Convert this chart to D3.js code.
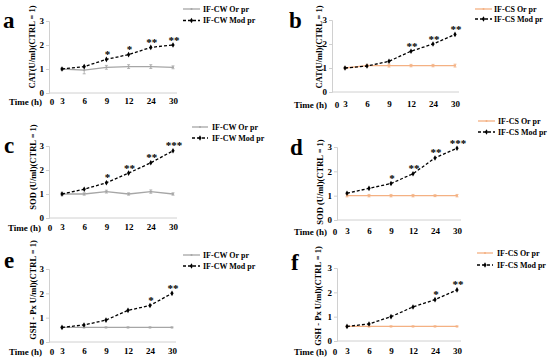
<!DOCTYPE html>
<html><head><meta charset="utf-8">
<script src="https://cdn.jsdelivr.net/npm/d3@7"></script>
<style>
body{margin:0;background:#fff}
svg{display:block}
text{font-family:"Liberation Serif","Times New Roman",serif;font-weight:bold;fill:#000}
</style>
</head><body>
<svg id="chart" width="550" height="358"></svg>
<script>
// ---- data ----
const times = ["3","6","9","12","24","30"];
const yTicks = [0,1,2,3];

const catCWOr  = [1.0, 0.95, 1.07, 1.1, 1.1, 1.07];
const catCWOrErr = [0.05, 0.15, 0.08, 0.08, 0.08, 0.06];
const catCWMod = [1.0, 1.1, 1.4, 1.6, 1.9, 2.0];
const catCWModErr = [0.03, 0.05, 0.07, 0.06, 0.05, 0.05];
const catCWSig = ["", "", "*", "*", "**", "**"];

const catCSOr  = [1.0, 1.1, 1.1, 1.1, 1.1, 1.1];
const catCSOrErr = [0.04, 0.05, 0.06, 0.05, 0.05, 0.06];
const catCSMod = [1.0, 1.08, 1.28, 1.7, 2.0, 2.4];
const catCSModErr = [0.03, 0.04, 0.05, 0.05, 0.05, 0.05];
const catCSSig = ["", "", "", "**", "**", "**"];

const sodCWOr  = [1.0, 1.0, 1.1, 1.0, 1.1, 1.0];
const sodCWOrErr = [0.07, 0.05, 0.06, 0.05, 0.07, 0.05];
const sodCWMod = [1.0, 1.2, 1.47, 1.87, 2.3, 2.8];
const sodCWModErr = [0.03, 0.04, 0.05, 0.05, 0.05, 0.05];
const sodCWSig = ["", "", "*", "**", "**", "***"];

const sodCSOr  = [1.0, 1.0, 1.0, 1.0, 1.0, 1.0];
const sodCSOrErr = [0.05, 0.05, 0.05, 0.05, 0.04, 0.05];
const sodCSMod = [1.1, 1.3, 1.5, 1.9, 2.55, 2.95];
const sodCSModErr = [0.03, 0.04, 0.05, 0.05, 0.05, 0.05];
const sodCSSig = ["", "", "*", "**", "**", "***"];

const gshCWOr  = [0.6, 0.6, 0.6, 0.6, 0.6, 0.6];
const gshCWOrErr = [0.02, 0.02, 0.02, 0.02, 0.02, 0.02];
const gshCWMod = [0.6, 0.7, 0.9, 1.3, 1.5, 2.0];
const gshCWModErr = [0.02, 0.03, 0.03, 0.04, 0.04, 0.04];
const gshCWSig = ["", "", "", "", "*", "**"];

const gshCSOr  = [0.6, 0.6, 0.6, 0.6, 0.6, 0.6];
const gshCSOrErr = [0.02, 0.02, 0.02, 0.02, 0.02, 0.02];
const gshCSMod = [0.6, 0.7, 1.0, 1.4, 1.7, 2.1];
const gshCSModErr = [0.02, 0.03, 0.03, 0.04, 0.04, 0.04];
const gshCSSig = ["", "", "", "", "*", "**"];

const yTitles = ["CAT(U/ml)(CTRL = 1)", "SOD (U/ml)(CTRL = 1)", "GSH - Px U/ml)(CTRL = 1)"];
const legendCW = ["IF-CW Or pr", "IF-CW Mod pr"];
const legendCS = ["IF-CS Or pr", "IF-CS Mod pr"];
const panelLetters = ["a","b","c","d","e","f"];

// ---- styling / layout ----
const GRAY = "#a6a6a6", ORANGE = "#f4b183", AXIS = "#d0d0d0";

const panels = [
 {letter:panelLetters[0], title:yTitles[0], or:catCWOr, orErr:catCWOrErr, mod:catCWMod, modErr:catCWModErr, sig:catCWSig, color:GRAY, legend:legendCW,
  L:{ax:49,y0:93,y3:21,x1:62,x2:173,axEnd:177,labY:102,zeroX:52,timeEnd:42,tX:32,tY:47,lx:3,ly:28,gx1:183,gx2:200,gy1:9,gy2:20.5,gt:203}},
 {letter:panelLetters[1], title:yTitles[0], or:catCSOr, orErr:catCSOrErr, mod:catCSMod, modErr:catCSModErr, sig:catCSSig, color:ORANGE, legend:legendCS,
  L:{ax:332,y0:92,y3:20,x1:345,x2:455,axEnd:459,labY:105,zeroX:337,timeEnd:327,tX:319,tY:47,lx:289,ly:28,gx1:475,gx2:492,gy1:9,gy2:19,gt:494}},
 {letter:panelLetters[2], title:yTitles[1], or:sodCWOr, orErr:sodCWOrErr, mod:sodCWMod, modErr:sodCWModErr, sig:sodCWSig, color:GRAY, legend:legendCW,
  L:{ax:49,y0:218,y3:146,x1:62,x2:173,axEnd:177,labY:228,zeroX:50,timeEnd:41,tX:33,tY:167,lx:4,ly:153,gx1:192,gx2:208,gy1:127,gy2:138,gt:212}},
 {letter:panelLetters[3], title:yTitles[1], or:sodCSOr, orErr:sodCSOrErr, mod:sodCSMod, modErr:sodCSModErr, sig:sodCSSig, color:ORANGE, legend:legendCS,
  L:{ax:337,y0:220,y3:147,x1:347,x2:457,axEnd:461,labY:232,zeroX:335,timeEnd:327,tX:320,tY:182,lx:290,ly:155,gx1:478,gx2:495,gy1:121,gy2:132,gt:498}},
 {letter:panelLetters[4], title:yTitles[2], or:gshCWOr, orErr:gshCWOrErr, mod:gshCWMod, modErr:gshCWModErr, sig:gshCWSig, color:GRAY, legend:legendCW,
  L:{ax:49,y0:342,y3:269,x1:62,x2:172,axEnd:176,labY:352,zeroX:52,timeEnd:42,tX:33,tY:290,lx:4,ly:268,gx1:183,gx2:200,gy1:255,gy2:266,gt:203}},
 {letter:panelLetters[5], title:yTitles[2], or:gshCSOr, orErr:gshCSOrErr, mod:gshCSMod, modErr:gshCSModErr, sig:gshCSSig, color:ORANGE, legend:legendCS,
  L:{ax:337,y0:341,y3:268,x1:347,x2:457,axEnd:461,labY:352,zeroX:335,timeEnd:327,tX:318,tY:296,lx:291,ly:270,gx1:477,gx2:493,gy1:253,gy2:265,gt:497}}
];

const svg = d3.select("#chart");

panels.forEach(p => {
  const L = p.L;
  const g = svg.append("g");
  const x = d3.scalePoint().domain(times).range([L.x1, L.x2]);
  const y = d3.scaleLinear().domain([0,3]).range([L.y0, L.y3]);

  // y axis
  const ya = g.append("g").attr("transform", `translate(${L.ax},0)`)
    .call(d3.axisLeft(y).tickValues(yTicks).tickFormat(d3.format("d")).tickSize(3).tickPadding(2));
  ya.select(".domain").attr("stroke", AXIS);
  ya.selectAll(".tick line").attr("stroke", AXIS);
  ya.selectAll(".tick text").attr("font-size", 9).attr("font-family", "Liberation Serif, serif").attr("font-weight","bold").attr("fill","#000");

  // x axis line
  g.append("line").attr("x1", L.ax).attr("x2", L.axEnd).attr("y1", y(0)).attr("y2", y(0)).attr("stroke", AXIS);

  // x labels (category)
  const xa = g.append("g").attr("transform", `translate(0,${L.labY - 7})`)
    .call(d3.axisBottom(x).tickSize(0).tickPadding(3));
  xa.select(".domain").remove();
  xa.selectAll(".tick text").attr("font-size", 9).attr("font-family", "Liberation Serif, serif").attr("font-weight","bold").attr("fill","#000");

  g.append("text").attr("x", L.zeroX).attr("y", L.labY + 3).attr("text-anchor","middle").attr("font-size", 9).text("0");
  g.append("text").attr("x", L.timeEnd).attr("y", L.labY + 3).attr("text-anchor","end").attr("font-size", 9).text("Time (h)");

  // y title
  g.append("text").attr("transform", `translate(${L.tX + 3},${L.tY}) rotate(-90)`)
    .attr("text-anchor","middle").attr("font-size", 8.5).text(p.title);

  // panel letter
  g.append("text").attr("x", L.lx).attr("y", L.ly).attr("font-size", 23).text(p.letter);

  const line = d3.line().x((d,i) => x(times[i])).y(d => y(d));

  // original series
  g.append("path").datum(p.or).attr("d", line).attr("fill","none").attr("stroke", p.color).attr("stroke-width", 1.3);
  p.or.forEach((v,i) => {
    const cx = x(times[i]);
    const e = p.orErr[i];
    g.append("line").attr("x1",cx).attr("x2",cx).attr("y1",y(v-e)).attr("y2",y(v+e)).attr("stroke",p.color).attr("stroke-width",0.8);
    [v-e, v+e].forEach(w => g.append("line").attr("x1",cx-1.5).attr("x2",cx+1.5).attr("y1",y(w)).attr("y2",y(w)).attr("stroke",p.color).attr("stroke-width",0.8));
    g.append("circle").attr("cx",cx).attr("cy",y(v)).attr("r",1).attr("fill",p.color);
  });

  // modified series
  p.mod.forEach((v,i) => {
    const cx = x(times[i]);
    const e = p.modErr[i];
    g.append("line").attr("x1",cx).attr("x2",cx).attr("y1",y(v-e)).attr("y2",y(v+e)).attr("stroke","#555").attr("stroke-width",0.6);
  });
  g.append("path").datum(p.mod).attr("d", line).attr("fill","none").attr("stroke", "#000").attr("stroke-width", 1.3).attr("stroke-dasharray","3,2");
  p.mod.forEach((v,i) => {
    g.append("path").attr("d", d3.symbol(d3.symbolDiamond, 9)()).attr("transform", `translate(${x(times[i])},${y(v)})`).attr("fill","#000");
  });

  // significance marks
  p.sig.forEach((s,i) => {
    if (!s) return;
    g.append("text").attr("x", x(times[i]) + 1).attr("y", y(p.mod[i]) - 1.5).attr("text-anchor","middle")
      .attr("font-size", 11).attr("fill", "#000").style("fill", "#000").text(s);
  });

  // legend
  g.append("line").attr("x1",L.gx1).attr("x2",L.gx2).attr("y1",L.gy1).attr("y2",L.gy1).attr("stroke",p.color).attr("stroke-width",1.3);
  g.append("circle").attr("cx",(L.gx1+L.gx2)/2).attr("cy",L.gy1).attr("r",1).attr("fill",p.color);
  g.append("text").attr("x",L.gt).attr("y",L.gy1+2.8).attr("font-size",8).text(p.legend[0]);
  g.append("line").attr("x1",L.gx1).attr("x2",L.gx2).attr("y1",L.gy2).attr("y2",L.gy2).attr("stroke","#000").attr("stroke-width",1.3).attr("stroke-dasharray","3,2");
  g.append("path").attr("d", d3.symbol(d3.symbolDiamond, 9)()).attr("transform", `translate(${(L.gx1+L.gx2)/2},${L.gy2})`).attr("fill","#000");
  g.append("text").attr("x",L.gt).attr("y",L.gy2+2.8).attr("font-size",8).text(p.legend[1]);
});
</script>
</body></html>
